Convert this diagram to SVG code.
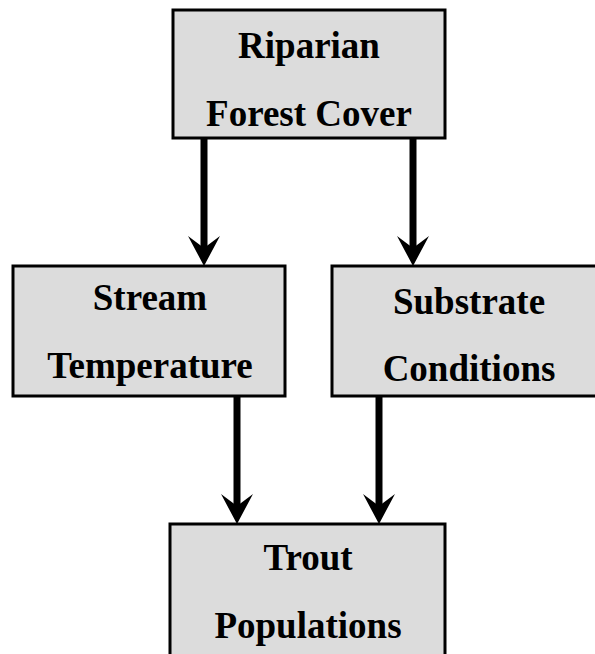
<svg xmlns="http://www.w3.org/2000/svg" width="595" height="654" viewBox="0 0 595 654">
<style>
.box{fill:#dcdcdc;stroke:#000;stroke-width:3}
.t{font-family:"Liberation Serif","Times New Roman",serif;font-weight:bold;font-size:37px;text-anchor:middle;fill:#000}
.c{stroke:#000;stroke-width:7;fill:none}
.h{fill:#000}
</style>
<rect width="595" height="654" fill="#fff"/>
<g id="connectors">
<line class="c" x1="204" y1="139" x2="204" y2="250"/>
<polygon class="h" points="204,266 188,236 204,248 220,236"/>
<line class="c" x1="413" y1="139" x2="413" y2="250"/>
<polygon class="h" points="413,266 397,236 413,248 429,236"/>
<line class="c" x1="237" y1="397" x2="237" y2="508"/>
<polygon class="h" points="237,524 221,494 237,506 253,494"/>
<line class="c" x1="379" y1="397" x2="379" y2="508"/>
<polygon class="h" points="379,524 363,494 379,506 395,494"/>
</g>
<g id="riparian">
<rect class="box" x="173" y="10" width="272" height="128"/>
<text class="t" x="309" y="58">Riparian</text>
<text class="t" x="309" y="126">Forest Cover</text>
</g>
<g id="stream">
<rect class="box" x="13" y="266" width="272" height="130"/>
<text class="t" x="150" y="310">Stream</text>
<text class="t" x="150" y="378">Temperature</text>
</g>
<g id="substrate">
<rect class="box" x="332" y="266" width="275" height="130"/>
<text class="t" x="469" y="314">Substrate</text>
<text class="t" x="469" y="381">Conditions</text>
</g>
<g id="trout">
<rect class="box" x="170" y="524" width="275" height="145"/>
<text class="t" x="308" y="570">Trout</text>
<text class="t" x="308" y="638">Populations</text>
</g>
</svg>
